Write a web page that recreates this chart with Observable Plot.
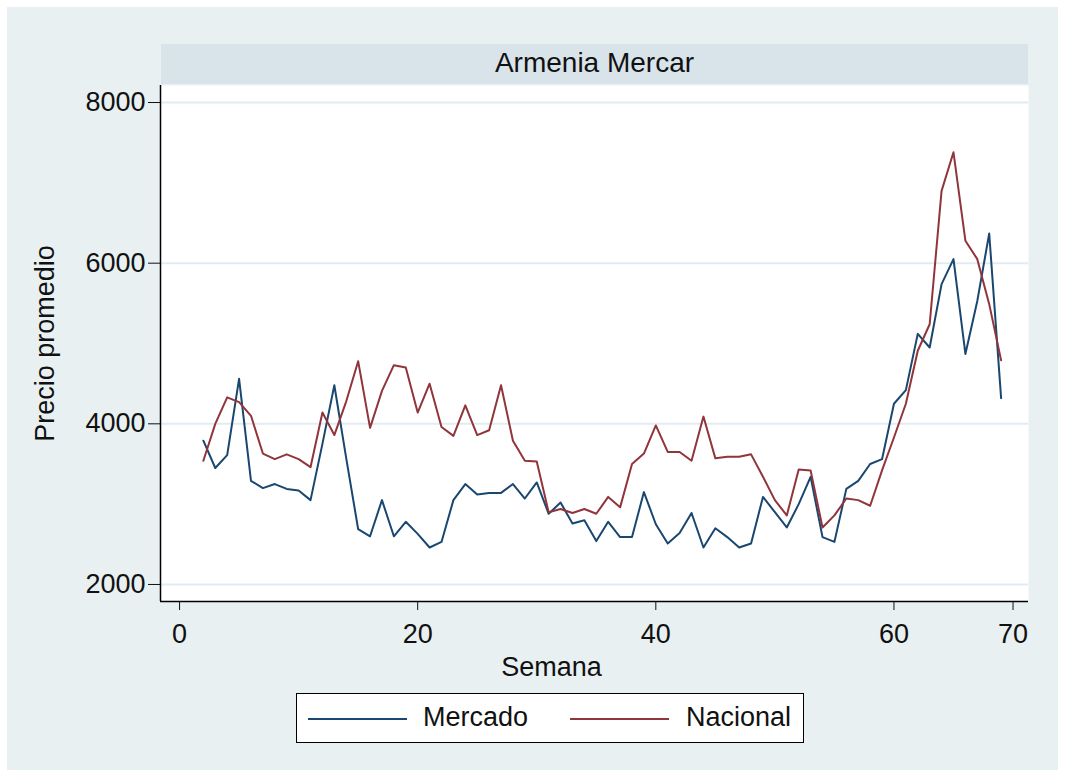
<!DOCTYPE html>
<html>
<head>
<meta charset="utf-8">
<script src="https://cdn.jsdelivr.net/npm/d3@7"></script>
<script src="https://cdn.jsdelivr.net/npm/@observablehq/plot@0.6"></script>
<style>
  body { margin: 0; background: #ffffff; font-family: "Liberation Sans", Arial, sans-serif; }
  #bg { position: absolute; left: 7px; top: 7px; width: 1051px; height: 763px; background: #e8f0f2; }
  #strip { position: absolute; left: 161px; top: 44px; width: 867px; height: 40px; background: #d8e4ea;
           font-size: 28px; line-height: 38px; text-align: center; color: #111; }
  #chart { position: absolute; left: 0; top: 0; }
  #legend { position: absolute; left: 296px; top: 693px; width: 508px; height: 50px; box-sizing: border-box;
            border: 1.5px solid #000; background: #fff; }
  .sw { position: absolute; top: 24px; height: 2px; width: 99px; }
  .lt { position: absolute; top: 0; font-size: 27px; line-height: 47px; color: #111; }
</style>
</head>
<body>
<div id="bg"></div>
<div id="strip"></div>
<div id="chart"></div>
<div id="legend"></div>
<script>
const panelTitle = "Armenia Mercar";
const xLabel = "Semana";
const yLabel = "Precio promedio";
const seriesNames = ["Mercado", "Nacional"];
const seriesColors = ["#1a476f", "#90353b"];

const weeks = [2,3,4,5,6,7,8,9,10,11,12,13,14,15,16,17,18,19,20,21,22,23,24,25,26,27,28,29,30,31,32,33,34,35,
  36,37,38,39,40,41,42,43,44,45,46,47,48,49,50,51,52,53,54,55,56,57,58,59,60,61,62,63,64,65,66,67,68,69];

const mercado = [3790,3450,3610,4560,3290,3200,3250,3190,3170,3050,3750,4480,3570,2690,2600,3050,2600,2780,2630,2460,
  2530,3050,3250,3120,3140,3140,3250,3070,3270,2880,3020,2760,2800,2540,2780,2590,2590,3150,2750,2510,
  2640,2890,2460,2700,2590,2460,2510,3090,2900,2710,3000,3340,2590,2530,3190,3290,3500,3560,4250,4420,
  5120,4950,5740,6050,4870,5530,6370,4320];

const nacional = [3540,4000,4330,4270,4100,3630,3560,3620,3560,3460,4140,3860,4280,4780,3950,4410,4730,4700,4140,4500,
  3960,3850,4230,3860,3920,4480,3790,3540,3530,2900,2940,2890,2940,2880,3090,2960,3500,3630,3980,3650,
  3650,3540,4090,3570,3590,3590,3620,3340,3050,2860,3430,3420,2710,2860,3070,3050,2980,3420,3830,4250,
  4910,5240,6900,7380,6280,6050,5490,4790];

const xTicks = [0, 20, 40, 60, 70];
const yTicks = [2000, 4000, 6000, 8000];
const xDomain = [-1.6, 71.3];
const yDomain = [1788, 8212];

const rows = [];
weeks.forEach((w, i) => {
  rows.push({semana: w, precio: mercado[i], serie: seriesNames[0]});
  rows.push({semana: w, precio: nacional[i], serie: seriesNames[1]});
});

document.getElementById("strip").textContent = panelTitle;

const chart = Plot.plot({
  width: 1065,
  height: 690,
  marginLeft: 160,
  marginRight: 37,
  marginTop: 85,
  marginBottom: 89,
  style: { background: "transparent", fontFamily: "'Liberation Sans', Arial, sans-serif", fontSize: "27px", color: "#111" },
  x: { domain: xDomain, ticks: xTicks, tickSize: 9, tickPadding: 13, tickFormat: d => String(d), label: null },
  y: { domain: yDomain, ticks: yTicks, tickSize: 12, tickPadding: 3, tickFormat: d => String(d), label: null },
  color: { domain: seriesNames, range: seriesColors },
  marks: [
    Plot.frame({ fill: "white", stroke: "none" }),
    Plot.ruleY(yTicks, { stroke: "#e2ecf0", strokeWidth: 2 }),
    Plot.line(rows, { x: "semana", y: "precio", z: "serie", stroke: "serie", strokeWidth: 2 }),
    Plot.ruleX([xDomain[0]], { stroke: "#000", strokeWidth: 1.5 }),
    Plot.ruleY([yDomain[0]], { stroke: "#000", strokeWidth: 1.5 }),
    Plot.text([yLabel], { text: d => d, frameAnchor: "left", dx: -115, rotate: -90, textAnchor: "middle", lineAnchor: "middle", fontSize: 27, fill: "#111" }),
    Plot.text([xLabel], { text: d => d, frameAnchor: "bottom", dx: -43, dy: 66, textAnchor: "middle", lineAnchor: "middle", fontSize: 27, fill: "#111" })
  ]
});
document.getElementById("chart").appendChild(chart);

const legend = document.getElementById("legend");
const swLeft = [11, 273];
const txtLeft = [126, 389];
seriesNames.forEach((name, i) => {
  const sw = document.createElement("div");
  sw.className = "sw";
  sw.style.left = swLeft[i] + "px";
  sw.style.background = seriesColors[i];
  legend.appendChild(sw);
  const t = document.createElement("div");
  t.className = "lt";
  t.style.left = txtLeft[i] + "px";
  t.textContent = name;
  legend.appendChild(t);
});
</script>
</body>
</html>
